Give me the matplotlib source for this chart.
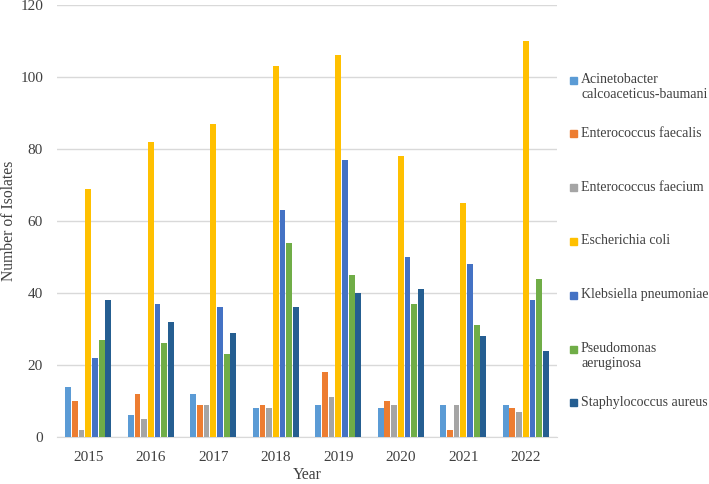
import matplotlib.pyplot as plt
from matplotlib.patches import Rectangle
import numpy as np

plt.rcParams['font.family'] = ['Liberation Serif', 'DejaVu Serif']

years = ["2015", "2016", "2017", "2018", "2019", "2020", "2021", "2022"]
species = ["Acinetobacter\ncalcoaceticus-baumani", "Enterococcus faecalis",
           "Enterococcus faecium", "Escherichia coli", "Klebsiella pneumoniae",
           "Pseudomonas\naeruginosa", "Staphylococcus aureus"]
acinetobacter = [14, 6, 12, 8, 9, 8, 9, 9]
e_faecalis = [10, 12, 9, 9, 18, 10, 2, 8]
e_faecium = [2, 5, 9, 8, 11, 9, 9, 7]
e_coli = [69, 82, 87, 103, 106, 78, 65, 110]
klebsiella = [22, 37, 36, 63, 77, 50, 48, 38]
pseudomonas = [27, 26, 23, 54, 45, 37, 31, 44]
staph = [38, 32, 29, 36, 40, 41, 28, 24]

series = [acinetobacter, e_faecalis, e_faecium, e_coli, klebsiella, pseudomonas, staph]
colors = ["#5B9BD5", "#ED7D31", "#A5A5A5", "#FFC000", "#4472C4", "#70AD47", "#255E91"]

fig = plt.figure(figsize=(7.09, 4.84), dpi=100)
ax = fig.add_axes([57 / 709, 1 - 437 / 484, 500 / 709, 432 / 484])

x = np.arange(len(years))
step = 0.107
for i, (vals, c) in enumerate(zip(series, colors)):
    ax.bar(x + (i - 3) * step, vals, width=0.092, color=c, zorder=3)

ax.set_xlim(-0.5, len(years) - 0.5)
ax.set_ylim(0, 120)
ax.set_yticks(range(0, 121, 20))
ax.set_xticks(x)
ax.set_xticklabels(years)
ax.tick_params(axis='both', length=0, labelsize=11, colors='#404040')
ax.tick_params(axis='x', pad=10)
ax.tick_params(axis='y', pad=10)
ax.grid(axis='y', color='#D9D9D9', linewidth=1, zorder=0)
for s in ['top', 'right', 'left']:
    ax.spines[s].set_visible(False)
ax.spines['bottom'].set_color('#D9D9D9')
ax.set_xlabel("Year", fontsize=11.3, color='#404040', labelpad=2)
ax.set_ylabel("Number of Isolates", fontsize=11.3, color='#404040')
ax.yaxis.set_label_coords(-40 / 500, 0.5)

# legend, laid out like the Excel one
y0 = 80
dy = 53.8
for i, (name, c) in enumerate(zip(species, colors)):
    yy = y0 + i * dy
    fig.patches.append(Rectangle((570 / 709, 1 - (yy + 3.5) / 484), 7 / 709, 7 / 484,
                                 transform=fig.transFigure, color=c))
    fig.text(581 / 709, 1 - (yy - 7) / 484, name, fontsize=10, color='#404040',
             va='top', ha='left', linespacing=1.15)

plt.savefig("out.png", dpi=100)
